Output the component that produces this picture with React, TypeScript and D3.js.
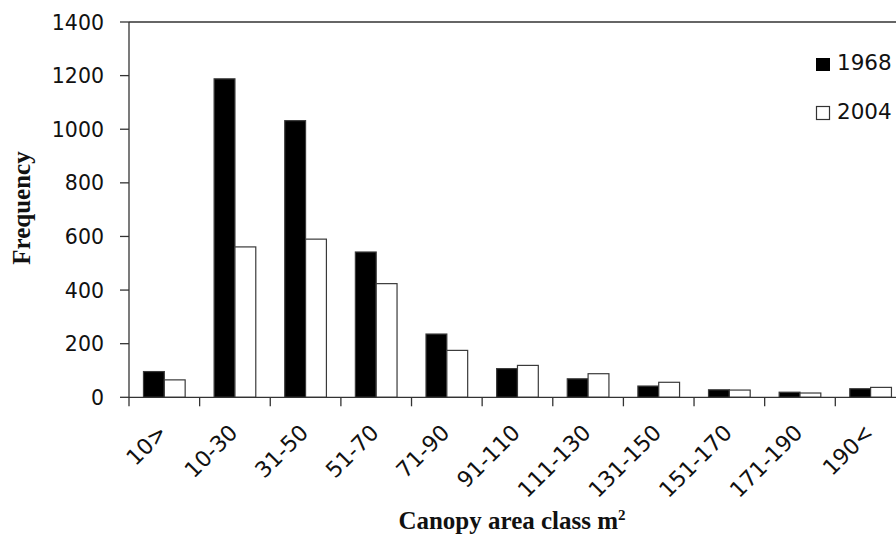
import React from "react";
import * as d3 from "d3";

const categories = ["10>", "10-30", "31-50", "51-70", "71-90", "91-110", "111-130", "131-150", "151-170", "171-190", "190<"];
const seriesNames = ["1968", "2004"];
const values1968 = [96, 1188, 1032, 542, 236, 107, 69, 42, 28, 19, 32];
const values2004 = [65, 561, 590, 424, 175, 119, 88, 56, 27, 16, 37];
const yTicks = [0, 200, 400, 600, 800, 1000, 1200, 1400];

const W = 896;
const H = 538;
const left = 129;
const step = 70.63;
const right = left + step * categories.length;
const top = 22;
const bottom = 397.3;

export default function App() {
  const x0 = d3
    .scaleBand<string>()
    .domain(categories)
    .range([left, right])
    .paddingInner(0.41)
    .paddingOuter(0.205);
  const x1 = d3.scaleBand<string>().domain(seriesNames).range([0, x0.bandwidth()]);
  const y = d3.scaleLinear().domain([0, 1400]).range([bottom, top]);
  const tickX = (i: number) => left + i * step;
  const data = [values1968, values2004];
  const fills = ["#000", "#fff"];
  const strokes = ["#3a3a3a", "#3a3a3a"];
  const axisColor = "#333";

  return (
    <svg
      width={W}
      height={H}
      style={{ position: "absolute", left: 0, top: 0, background: "#fff" }}
    >
      <rect x={0} y={0} width={W} height={H} fill="#fff" />
      {/* bars */}
      {categories.map((c, i) => (
        <g key={c} transform={`translate(${x0(c)},0)`}>
          {seriesNames.map((s, j) => (
            <rect
              key={s}
              x={x1(s)}
              y={y(data[j][i])}
              width={x1.bandwidth()}
              height={y(0) - y(data[j][i])}
              fill={fills[j]}
              stroke={strokes[j]}
              strokeWidth={1.2}
            />
          ))}
        </g>
      ))}
      {/* top border */}
      <line x1={left} x2={right} y1={y(1400)} y2={y(1400)} stroke={axisColor} strokeWidth={1.3} />
      {/* y axis */}
      <line x1={left} x2={left} y1={y(1400)} y2={y(0)} stroke={axisColor} strokeWidth={1.3} />
      {yTicks.map((t) => (
        <g key={t}>
          <line x1={left - 9} x2={left} y1={y(t)} y2={y(t)} stroke={axisColor} strokeWidth={1.3} />
          <text
            x={104}
            y={y(t) + 7.5}
            textAnchor="end"
            fontFamily="DejaVu Sans"
            fontSize={20.5}
            fill="#111"
          >
            {t}
          </text>
        </g>
      ))}
      {/* x axis */}
      <line x1={left} x2={right} y1={y(0)} y2={y(0)} stroke={axisColor} strokeWidth={1.3} />
      {categories.map((c, i) => (
        <line
          key={"t" + c}
          x1={tickX(i)}
          x2={tickX(i)}
          y1={y(0)}
          y2={y(0) + 9}
          stroke={axisColor}
          strokeWidth={1.3}
        />
      ))}
      <line x1={tickX(categories.length)} x2={tickX(categories.length)} y1={y(0)} y2={y(0) + 9} stroke={axisColor} strokeWidth={1.3} />
      {categories.map((c) => {
        const cx = (x0(c) as number) + x0.bandwidth() / 2;
        return (
          <text
            key={"l" + c}
            transform={`translate(${cx + 4},${434}) rotate(-45)`}
            textAnchor="end"
            fontFamily="DejaVu Sans"
            fontSize={22}
            fill="#111"
          >
            {c}
          </text>
        );
      })}
      {/* axis titles */}
      <text
        transform="translate(30,208) rotate(-90)"
        textAnchor="middle"
        fontFamily="Liberation Serif"
        fontWeight="bold"
        fontSize={25}
        fill="#111"
      >
        Frequency
      </text>
      <text
        x={512}
        y={529}
        textAnchor="middle"
        fontFamily="Liberation Serif"
        fontWeight="bold"
        fontSize={25}
        fill="#111"
      >
        Canopy area class m
        <tspan fontSize={15} dy={-9}>
          2
        </tspan>
      </text>
      {/* legend */}
      <rect x={816} y={58} width={14} height={13} fill="#000" />
      <text x={837} y={69.5} fontFamily="DejaVu Sans" fontSize={21.5} fill="#111">
        {seriesNames[0]}
      </text>
      <rect x={816.5} y={106.5} width={13} height={13} fill="#fff" stroke="#333" strokeWidth={1.2} />
      <text x={837} y={118.5} fontFamily="DejaVu Sans" fontSize={21.5} fill="#111">
        {seriesNames[1]}
      </text>
    </svg>
  );
}
